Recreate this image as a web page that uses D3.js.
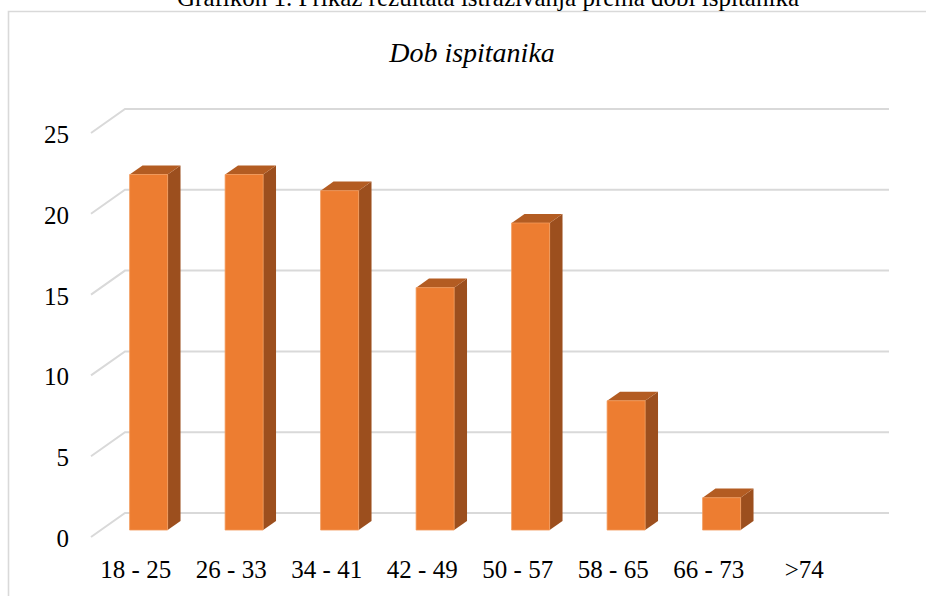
<!DOCTYPE html>
<html>
<head>
<meta charset="utf-8">
<script src="https://cdn.jsdelivr.net/npm/d3@7"></script>
</head>
<body style="margin:0;background:#fff">
<svg id="chart" width="926" height="596" font-family="Liberation Serif"></svg>
<script>
// Age groups and respondent counts
const categories = ["18 - 25", "26 - 33", "34 - 41", "42 - 49", "50 - 57", "58 - 65", "66 - 73", ">74"];
const counts = [22, 22, 21, 15, 19, 8, 2, 0];
const yTicks = [0, 5, 10, 15, 20, 25];
const figureCaption = "Grafikon 1. Prikaz rezultata istraživanja prema dobi ispitanika";
const chartTitle = "Dob ispitanika";

const svg = d3.select("#chart");
const serifText = sel => sel
  .attr("font-family", "Liberation Serif")
  .style("font-family", "'Liberation Serif'", "important")
  .attr("fill", "#000");

// Front plane of the 3D box, with a depth offset for the back wall
const x = d3.scaleBand().domain(categories).range([91, 855]);
const y = d3.scaleLinear().domain([0, 25]).range([537, 133]);
const DEPTH_X = 34, DEPTH_Y = -24;
const proj = (px, v, d) => [px + DEPTH_X * d, y(v) + DEPTH_Y * d];

// Chart frame
svg.append("path")
  .attr("d", "M8.5,600 L8.5,11.5 L930,11.5")
  .attr("fill", "none").attr("stroke", "#d9d9d9").attr("stroke-width", 1.6);

// Figure caption (partly above the frame)
svg.append("text")
  .attr("x", 488).attr("y", 6)
  .attr("text-anchor", "middle")
  .attr("font-size", 25)
  .call(serifText)
  .text(figureCaption);

// Chart title
svg.append("text")
  .attr("x", 472).attr("y", 62)
  .attr("text-anchor", "middle")
  .attr("font-size", 28)
  .style("font-style", "italic")
  .call(serifText)
  .text(chartTitle);

// Gridlines: a short diagonal on the floor/side, then along the back wall
const [x0, x1] = x.range();
const grid = svg.append("g");
yTicks.forEach(t => {
  const a = proj(x0, t, 0), b = proj(x0, t, 1), c = proj(x1, t, 1);
  grid.append("polyline")
    .attr("points", [a, b, c].map(p => p.join(",")).join(" "))
    .attr("fill", "none").attr("stroke", "#d9d9d9").attr("stroke-width", 2);
});

// Y axis labels
svg.append("g").selectAll("text").data(yTicks).join("text")
  .attr("x", 69)
  .attr("y", t => y(t) + 10)
  .attr("text-anchor", "end")
  .attr("font-size", 25)
  .call(serifText)
  .text(t => t);

// X axis labels
svg.append("g").selectAll("text").data(categories).join("text")
  .attr("x", c => x(c) + x.bandwidth() / 2 - 3)
  .attr("y", 578)
  .attr("text-anchor", "middle")
  .attr("font-size", 25)
  .call(serifText)
  .text(c => c);

// 3D columns
const D_FRONT = 0.29, D_BACK = 0.67, BAR_W = 38;
const bars = svg.append("g");
categories.forEach((c, i) => {
  const v = counts[i];
  if (!v) return;
  const cx = x(c) + x.bandwidth() / 2;
  const L = cx - BAR_W / 2, R = cx + BAR_W / 2;
  const fTL = proj(L, v, D_FRONT), fTR = proj(R, v, D_FRONT);
  const fBL = proj(L, 0, D_FRONT), fBR = proj(R, 0, D_FRONT);
  const bTL = proj(L, v, D_BACK), bTR = proj(R, v, D_BACK);
  const bBR = proj(R, 0, D_BACK);
  const poly = pts => pts.map(p => p.join(",")).join(" ");
  // side face
  bars.append("polygon").attr("points", poly([fTR, bTR, bBR, fBR]))
    .attr("fill", "#9c4f1e");
  // top face
  bars.append("polygon").attr("points", poly([fTL, fTR, bTR, bTL]))
    .attr("fill", "#b35c22");
  // front face
  bars.append("polygon").attr("points", poly([fTL, fTR, fBR, fBL]))
    .attr("fill", "#ed7d31").attr("stroke", "#f29a5c").attr("stroke-width", 0.8);
});
</script>
</body>
</html>
